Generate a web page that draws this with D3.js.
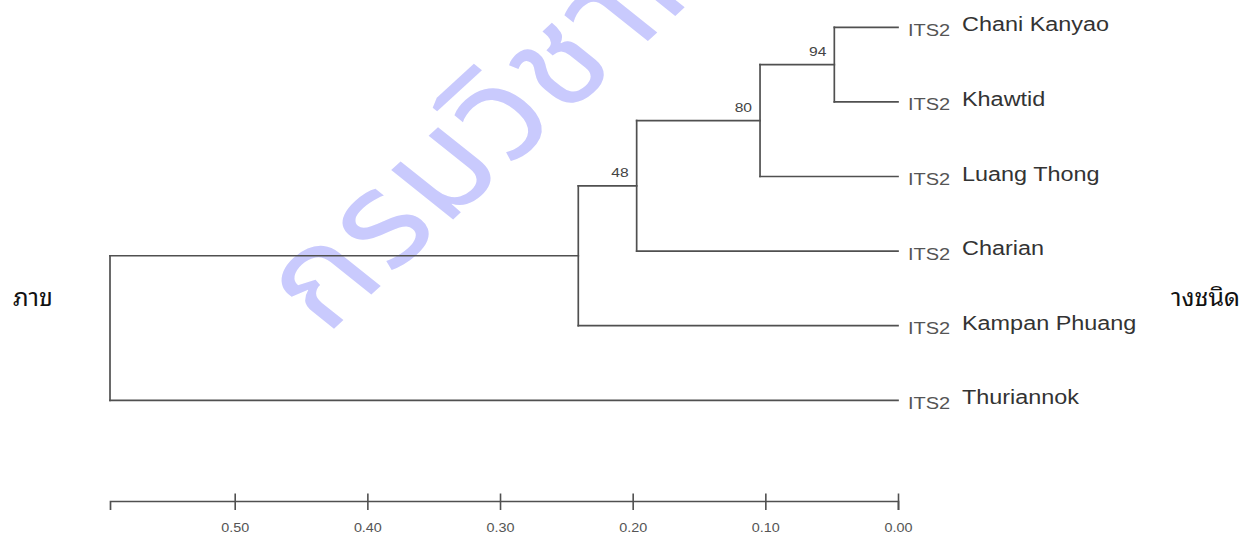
<!DOCTYPE html>
<html><head><meta charset="utf-8">
<script src="https://cdn.jsdelivr.net/npm/d3@7"></script>
<style>
html,body{margin:0;padding:0;background:#fff;}
svg{display:block;}
</style></head><body>
<svg id="chart" width="1253" height="540"></svg>
<script>
// Tip labels, top to bottom
const taxa = ["Chani Kanyao", "Khawtid", "Luang Thong", "Charian", "Kampan Phuang", "Thuriannok"];
const marker = "ITS2";
// Internal nodes: id, children, height (distance units) and bootstrap support
const nodeIds = ["c94", "c80", "c48", "cKP", "root"];
const nodeChildren = [["Chani Kanyao", "Khawtid"], ["c94", "Luang Thong"], ["c80", "Charian"], ["c48", "Kampan Phuang"], ["cKP", "Thuriannok"]];
const nodeHeights = [0.048, 0.104, 0.197, 0.241, 0.594];
const nodeSupport = [94, 80, 48, null, null];
// Distance scale bar
const scaleTicks = [0.50, 0.40, 0.30, 0.20, 0.10, 0.00];
// Page text around the figure
const watermark = "กรมวิชาการเกษตร";
const sideLeft = "ภาข";
const sideRight = "างชนิด";

const svg = d3.select("#chart");
const lineColor = "#505050";
const thaiFont = "'Noto Sans Thai', 'Noto Sans', sans-serif";
const thaiLooped = "'Noto Sans Thai Looped', 'Noto Sans Thai', 'Noto Sans', sans-serif";
const latinFont = "'Liberation Sans', Arial, Helvetica, sans-serif";

// Widen text horizontally by a factor, keeping its anchor
function widen(sel, f) {
  sel.each(function () {
    const w = this.getComputedTextLength();
    d3.select(this).attr("textLength", w * f).attr("lengthAdjust", "spacingAndGlyphs");
  });
}

// Build the tree
const rows = [{ id: "root", parent: null }];
nodeIds.forEach((p, i) => nodeChildren[i].forEach(c => rows.push({ id: c, parent: p })));
const root = d3.stratify().id(d => d.id).parentId(d => d.parent)(rows);
const heightOf = new Map(nodeIds.map((id, i) => [id, nodeHeights[i]]));
const supportOf = new Map(nodeIds.map((id, i) => [id, nodeSupport[i]]));

const x = d3.scaleLinear().domain([d3.max(nodeHeights), 0]).range([110, 898]);
const yLeaf = d3.scalePoint().domain(taxa).range([27.3, 400.3]);

root.eachAfter(n => {
  n.h = n.children ? heightOf.get(n.id) : 0;
  n.py = n.children ? d3.mean(n.children, c => c.py) : yLeaf(n.id);
  n.px = x(n.h);
});

// Watermark (behind everything), widened like the rest of the page
svg.append("text")
  .attr("transform", "translate(326,336) scale(1.17,1) rotate(-47)")
  .attr("font-family", thaiFont)
  .attr("font-size", 132)
  .attr("letter-spacing", 2)
  .attr("fill", "#c9cafd")
  .text(watermark);

// Side text
svg.append("text").attr("x", 13).attr("y", 306)
  .attr("font-family", thaiLooped).attr("font-size", 25).attr("fill", "#111")
  .text(sideLeft);
svg.append("text").attr("x", 1240).attr("y", 306).attr("text-anchor", "end")
  .attr("font-family", thaiLooped).attr("font-size", 25).attr("fill", "#111")
  .text(sideRight);

// Branches
const g = svg.append("g");
const internals = root.descendants().filter(n => n.children);
g.selectAll("path.v").data(internals).join("path")
  .attr("class", "v")
  .attr("d", n => `M${n.px},${d3.min(n.children, c => c.py)}V${d3.max(n.children, c => c.py)}`)
  .attr("fill", "none").attr("stroke", lineColor).attr("stroke-width", 1.7)
  .attr("stroke-linecap", "square");
g.selectAll("path.h").data(root.descendants().filter(n => n.parent)).join("path")
  .attr("class", "h")
  .attr("d", n => `M${n.parent.px},${n.py}H${n.px}`)
  .attr("fill", "none").attr("stroke", lineColor).attr("stroke-width", 1.7)
  .attr("stroke-linecap", "square");

// Bootstrap values
g.selectAll("text.bs").data(internals.filter(n => supportOf.get(n.id) != null)).join("text")
  .attr("class", "bs")
  .attr("x", n => n.px - 8).attr("y", n => n.py - 8.5)
  .attr("text-anchor", "end")
  .attr("font-family", latinFont).attr("font-size", 13).attr("fill", "#444")
  .text(n => supportOf.get(n.id))
  .call(widen, 1.2);

// Tip labels
const leaves = root.leaves();
const tip = g.selectAll("g.tip").data(leaves).join("g")
  .attr("class", "tip")
  .attr("transform", n => `translate(${x(0)},${n.py})`);
tip.append("text")
  .attr("x", 10).attr("y", 8.5)
  .attr("font-family", latinFont).attr("font-size", 16)
  .attr("fill", "#555")
  .text(marker)
  .call(widen, 1.25);
tip.append("text")
  .attr("x", 64).attr("y", 4)
  .attr("font-family", latinFont).attr("font-size", 20).attr("fill", "#333")
  .text(n => n.id)
  .call(widen, 1.17);

// Scale bar
const axis = d3.axisBottom(x)
  .tickValues(scaleTicks)
  .tickFormat(d3.format(".2f"))
  .tickSizeOuter(0)
  .tickSize(9)
  .tickPadding(13);
const ax = svg.append("g").attr("transform", "translate(0,501)").call(axis);
ax.select(".domain").attr("stroke", lineColor).attr("stroke-width", 1.7);
ax.selectAll(".tick line").attr("y1", -7.5).attr("stroke", lineColor).attr("stroke-width", 1.6);
ax.selectAll(".tick text")
  .attr("font-family", latinFont).attr("font-size", 12.5).attr("fill", "#555")
  .call(widen, 1.15);
</script>
</body></html>
